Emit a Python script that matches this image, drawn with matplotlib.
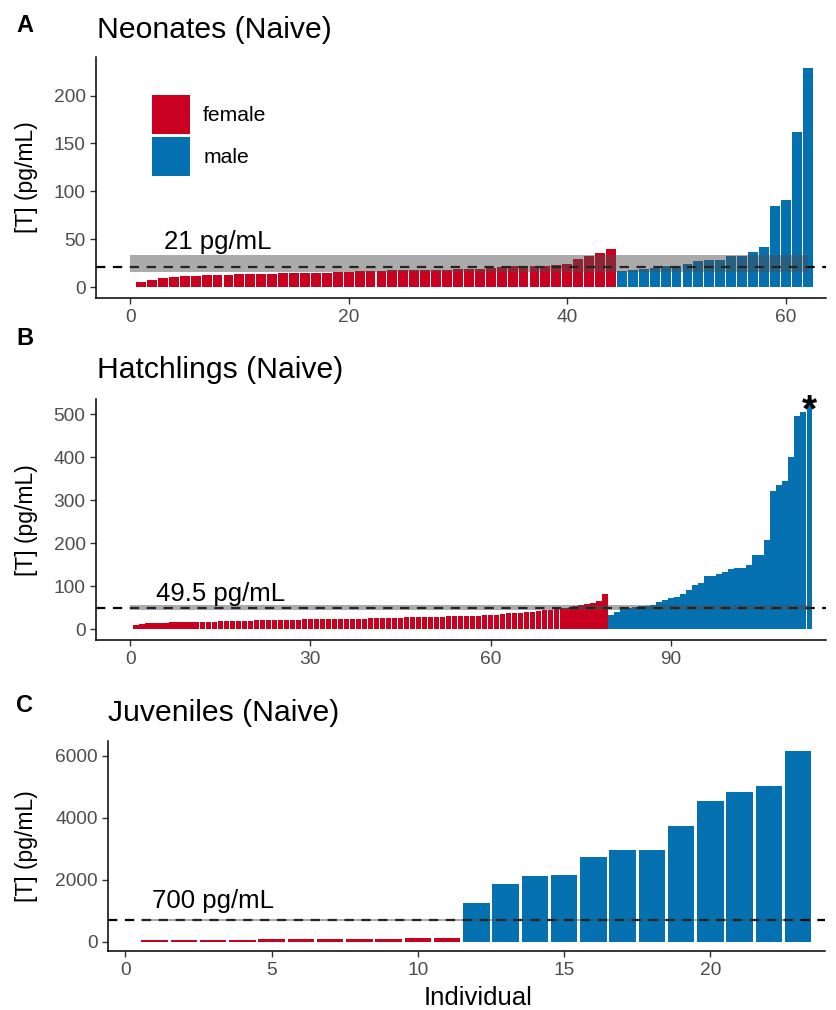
import numpy as np
import matplotlib
matplotlib.use("Agg")
from matplotlib import pyplot as plt
from matplotlib.patches import Patch

plt.rcParams["font.family"] = ["Liberation Sans", "DejaVu Sans"]

RED = "#CA0020"
BLUE = "#0571B0"

# testosterone per individual, sorted within sex
neo_female = [5.5, 7.6, 9.6, 11, 12, 12, 13, 13, 13, 14, 14, 14, 14, 15, 15,
              15, 15, 15, 16, 16, 17, 17, 17, 18, 18, 18, 18, 18, 18.5, 19,
              19, 19.5, 20.5, 21.5, 21.8, 22.8, 22.8, 22.8, 23, 24, 30, 33,
              36, 40]
neo_male = [17, 18.6, 19.7, 20.7, 21.8, 21.8, 24, 28, 29, 29, 33, 33, 37, 42,
            85, 91, 162, 229]
neo_cut = 21
neo_band = (16.5, 34)

hatch_female = [9, 13, 14, 14, 15, 15, 16, 16, 16, 17, 17, 18, 18, 18, 19, 19,
                19, 20, 20, 20, 21, 21, 21, 21, 22, 22, 22, 22, 23, 23, 23, 23,
                24, 24, 24, 24, 25, 25, 25, 26, 26, 26, 26, 27, 27, 28, 28, 28,
                28, 29, 29, 29, 30, 30, 30, 31, 31, 32, 33, 33, 33, 36, 37, 38,
                38, 40, 40, 43, 45, 46, 47, 49, 50, 54, 56, 60, 61, 66, 82]
hatch_male = [33, 40, 47, 50, 52, 54, 54, 56, 63, 68, 73, 75, 82, 91, 103, 108,
              125, 125, 129, 134, 141, 143, 143, 150, 173, 173, 208, 322, 336,
              345, 401, 496, 505, 537]
hatch_cut = 49.5
hatch_band = (45, 56)
hatch_ymax = 510  # y axis clipped, marked with *

juv_female = [50, 55, 58, 60, 75, 80, 82, 85, 90, 110, 120]
juv_male = [1244, 1855, 2113, 2145, 2723, 2948, 2948, 3720, 4524, 4813, 5006,
            6164]
juv_cut = 700
juv_band = (680, 720)

W, H = 837, 1010
fig = plt.figure(figsize=(W / 100, H / 100), dpi=100)


def box(x0, y0, x1, y1):
  # pixel box (top-left origin) -> figure fraction rect
  return [x0 / W, 1 - y1 / H, (x1 - x0) / W, (y1 - y0) / H]


def panel(rect, female, male, cut, band, band_x0, note, note_xy,
          xticks, yticks, ymax=None, solid=False):
  ax = fig.add_axes(rect)
  nf, nm = len(female), len(male)
  n = nf + nm
  xf = np.arange(1, nf + 1)
  xm = np.arange(nf + 1, n + 1)
  ax.bar(xf, female, width=0.9, color=RED, linewidth=0, zorder=2,
         antialiased=not solid)
  ax.bar(xm, male, width=0.9, color=BLUE, linewidth=0, zorder=2,
         antialiased=not solid)
  ax.axhline(cut, color="black", lw=1.6, ls=(0, (4.2, 3.4)), zorder=2.5)
  ax.fill_between([band_x0, n], band[0], band[1], color="#4D4D4D",
                  alpha=0.47, linewidth=0, zorder=3)
  ax.text(note_xy[0], note_xy[1], note, ha="center", va="baseline",
          fontsize=18.5, zorder=4)

  lo = min(band_x0, 0.55)
  hi = n + 0.45
  ax.set_xlim(lo - 0.05 * (hi - lo), hi + 0.02 * (hi - lo))
  top = ymax if ymax is not None else max(female + male)
  ax.set_ylim(-0.05 * top, 1.05 * top)

  ax.set_xticks(xticks)
  ax.set_yticks(yticks)
  for s in ("top", "right"):
    ax.spines[s].set_visible(False)
  for s in ("left", "bottom"):
    ax.spines[s].set_linewidth(1.1)
  ax.tick_params(length=4.5, width=1, color="#333333", labelcolor="#4D4D4D",
                 labelsize=13.8, pad=3)
  ax.set_ylabel("[T] (pg/mL)", fontsize=16.5)
  ax.yaxis.set_label_coords(-(rect[0] * W - 38) / (rect[2] * W), 0.5)
  return ax


def right(x0, x1):
  # shorten right expansion from 5% to 2% of the bar range
  return x0 + (x1 - x0) * 1.07 / 1.10


axA = panel(box(96, 56.7, right(96, 846.7), 298.4), neo_female, neo_male,
            neo_cut, neo_band, 0, "21 pg/mL", (8, 40),
            [0, 20, 40, 60], [0, 50, 100, 150, 200])
axB = panel(box(96, 399, right(96, 846), 640.3), hatch_female, hatch_male,
            hatch_cut, hatch_band, 0, "49.5 pg/mL", (15, 66),
            [0, 30, 60, 90], [0, 100, 200, 300, 400, 500],
            ymax=hatch_ymax, solid=True)
cx1 = right(108, 844.8)
axC = panel(box(108, 741, cx1, 951.3), juv_female, juv_male,
            juv_cut, juv_band, 0.55, "700 pg/mL", (3, 1074),
            [0, 5, 10, 15, 20], [0, 2000, 4000, 6000])

n_hatch = len(hatch_female) + len(hatch_male)
axB.text(n_hatch, 506, "*", ha="center", va="center", fontsize=28,
         fontweight="bold", zorder=5, clip_on=False)

axC.set_xlabel("Individual", fontsize=18.5)
axC.xaxis.set_label_coords((478 - 108) / (cx1 - 108), -(986 - 951.3) / 210.3)

axA.legend(handles=[Patch(facecolor=RED, label="female"),
                    Patch(facecolor=BLUE, label="male")],
           loc="upper left", bbox_to_anchor=((152 - 96) / 730,
                                             1 - (95 - 56.7) / 241.7),
           frameon=False, fontsize=15.2, handlelength=1.8, handleheight=2.5,
           handletextpad=0.62, labelspacing=0.1, borderpad=0,
           borderaxespad=0)

titles = [("A", "Neonates (Naive)", 25, 97, 30),
          ("B", "Hatchlings (Naive)", 338, 97, 370),
          ("C", "Juveniles (Naive)", 705, 108, 713)]
for letter, title, ly, tx, ty in titles:
  fig.text(25 / W, 1 - ly / H, letter, fontsize=17, fontweight="bold",
           ha="center", va="center")
  fig.text(tx / W, 1 - ty / H, title, fontsize=21.7, ha="left", va="center")

fig.savefig("out.png", dpi=100)
